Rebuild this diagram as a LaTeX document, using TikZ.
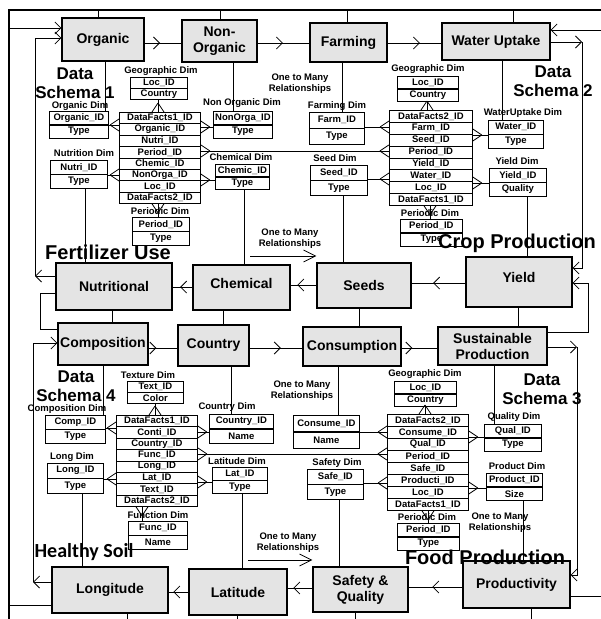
\documentclass[tikz,border=0pt]{standalone}
\usepackage{fontspec}
\setmainfont{Liberation Sans}
\newfontfamily\calibri{Carlito}
\usetikzlibrary{arrows.meta,decorations.markings}
\definecolor{boxgray}{RGB}{228,228,228}
\newcommand{\dimtab}[7]{%
  \node[cell,minimum width=#4,minimum height=#5,anchor=north west] (#1a) at (#2,#3) {#6};
  \node[cell,minimum width=#4,minimum height=#5,anchor=north] (#1b) at (#1a.south) {#7};}
\newcommand{\facttab}[6]{%
  \foreach \t [count=\i] in {#6} {\node[cell,minimum width=#4,minimum height=#5,anchor=north west] (#1r\i) at ({#2},{#3+(\i-1)*#5}) {\t};}}
\begin{document}
\begin{tikzpicture}[x=1pt,y=-1pt,
  mainbox/.style={draw,line width=1.1pt,fill=boxgray,font=\bfseries\fontsize{14}{16}\selectfont,align=center,inner sep=0pt},
  cell/.style={draw,line width=0.8pt,fill=white,inner sep=0pt,font=\bfseries\fontsize{9.5}{10}\selectfont},
  dimlabel/.style={font=\bfseries\fontsize{9.5}{10}\selectfont,inner sep=0pt},
  biglabel/.style={font=\bfseries\fontsize{17}{19}\selectfont,align=center,inner sep=0pt},
  huge/.style={font=\bfseries\fontsize{20}{22}\selectfont,inner sep=0pt},
  rel/.style={font=\bfseries\fontsize{9.5}{11}\selectfont,align=center,inner sep=0pt},
  link/.style={draw,line width=0.8pt},
  arr/.style={-{Straight Barb[length=6pt,width=12pt]}},
  bigarr/.style={-{Straight Barb[length=12pt,width=12pt]}},
  midarr/.style={postaction={decorate,decoration={markings,mark=at position #1 with {\arrow{Straight Barb[length=6pt,width=12pt]}}}}},
  crowend/.style={postaction={decorate,decoration={markings,mark=at position 0.999 with {\draw[line width=0.8pt] (-9pt,0pt) -- (0pt,6pt) (-9pt,0pt) -- (0pt,-6pt);}}}},
  crowstart/.style={postaction={decorate,decoration={markings,mark=at position 0.001 with {\draw[line width=0.8pt] (9pt,0pt) -- (0pt,6pt) (9pt,0pt) -- (0pt,-6pt);}}}}
]
\useasboundingbox (0,0) rectangle (601,619);

% frame
\coordinate (frTR) at (601,10);
\coordinate (frTL) at (9,10);
\coordinate (frBL) at (9,619);
\draw[line width=2.5pt] (frTR) -- (frTL) -- (frBL);

% main boxes
\node[mainbox,minimum width=82,minimum height=43] (organic) at (103,39.5) {Organic};
\node[mainbox,minimum width=75,minimum height=42] (nonorg) at (219.5,41) {Non-\\Organic};
\node[mainbox,minimum width=77,minimum height=39] (farming) at (348.5,42.5) {Farming};
\node[mainbox,minimum width=108,minimum height=37] (water) at (496,41.5) {Water Uptake};
\node[mainbox,minimum width=116,minimum height=47] (nutri) at (114,286.5) {Nutritional};
\node[mainbox,minimum width=97,minimum height=45] (chem) at (241.5,287.5) {\raisebox{9pt}{Chemical}};
\node[mainbox,minimum width=94,minimum height=45] (seeds) at (364,285.5) {Seeds};
\node[mainbox,minimum width=106,minimum height=50] (yield) at (519,282) {\raisebox{9pt}{Yield}};
\node[mainbox,minimum width=90,minimum height=42] (comp) at (103,344) {Composition};
\node[mainbox,minimum width=71,minimum height=41] (country) at (213.5,345.5) {Country};
\node[mainbox,minimum width=98,minimum height=39] (cons) at (352,346.5) {Consumption};
\node[mainbox,minimum width=109,minimum height=38] (sust) at (492.5,346) {Sustainable\\Production};
\node[mainbox,minimum width=116,minimum height=46] (longi) at (110,590) {Longitude};
\node[mainbox,minimum width=98,minimum height=46] (lati) at (238,592) {Latitude};
\node[mainbox,minimum width=95,minimum height=45] (safety) at (360.5,589.5) {Safety \&\\Quality};
\node[mainbox,minimum width=107,minimum height=47] (prod) at (516.5,584.5) {Productivity};

% dimension tables
\dimtab{geoA}{130}{77}{57}{10.5}{Loc\_ID}{Country}
\dimtab{orgd}{49}{111}{59}{13}{Organic\_ID}{Type}
\dimtab{nonorgd}{213}{111}{59}{13}{NonOrga\_ID}{Type}
\dimtab{nutd}{50}{160}{57}{13.5}{Nutri\_ID}{Type}
\dimtab{chemd}{215}{164}{54}{12}{Chemic\_ID}{Type}
\dimtab{perA}{132}{217}{57}{13.5}{Period\_ID}{Type}
\dimtab{farmd}{309}{112}{55}{15.5}{Farm\_ID}{Type}
\dimtab{geoB}{397}{76}{61}{12}{Loc\_ID}{Country}
\dimtab{watd}{488}{120}{55}{13.5}{Water\_ID}{Type}
\dimtab{seedd}{310}{165}{57}{14.5}{Seed\_ID}{Type}
\dimtab{yieldd}{489}{168}{57}{13.5}{Yield\_ID}{Quality}
\dimtab{perB}{400}{219}{62}{13}{Period\_ID}{Type}
\dimtab{texd}{127}{381}{56}{10.5}{Text\_ID}{Color}
\dimtab{compd}{45}{415}{60}{13.5}{Comp\_ID}{Type}
\dimtab{ctryd}{209}{414}{64}{14}{Country\_ID}{Name}
\dimtab{longd}{47}{463}{56}{14.5}{Long\_ID}{Type}
\dimtab{latd}{212}{467}{55}{12.5}{Lat\_ID}{Type}
\dimtab{funcd}{128}{521}{59}{13.5}{Func\_ID}{Name}
\dimtab{geoC}{394}{381}{62}{12}{Loc\_ID}{Country}
\dimtab{consd}{293}{415}{66}{16}{Consume\_ID}{Name}
\dimtab{quald}{484}{424}{57}{13}{Qual\_ID}{Type}
\dimtab{safed}{307}{469}{56}{14.5}{Safe\_ID}{Type}
\dimtab{prodd}{486}{473}{56}{13}{Product\_ID}{Size}
\dimtab{perC}{397}{523}{62}{13}{Period\_ID}{Type}

% fact tables
\facttab{fA}{119}{112}{81}{11.375}{DataFacts1\_ID,Organic\_ID,Nutri\_ID,Period\_ID,Chemic\_ID,NonOrga\_ID,Loc\_ID,DataFacts2\_ID}
\facttab{fB}{389}{110}{83}{11.875}{DataFacts2\_ID,Farm\_ID,Seed\_ID,Period\_ID,Yield\_ID,Water\_ID,Loc\_ID,DataFacts1\_ID}
\facttab{fD}{116}{415}{81}{11.375}{DataFacts1\_ID,Conti\_ID,Country\_ID,Func\_ID,Long\_ID,Lat\_ID,Text\_ID,DataFacts2\_ID}
\facttab{fC}{387}{414}{81}{12}{DataFacts2\_ID,Consume\_ID,Qual\_ID,Period\_ID,Safe\_ID,Producti\_ID,Loc\_ID,DataFacts1\_ID}

% dim labels
\node[dimlabel] (lgeoA) at (161,71) {Geographic Dim};
\node[dimlabel] (lorgd) at (80,106) {Organic Dim};
\node[dimlabel] (lnonorgd) at (242,103) {Non Organic Dim};
\node[dimlabel] (lnutd) at (84,153) {Nutrition Dim};
\node[dimlabel] (lchemd) at (241,157) {Chemical Dim};
\node[dimlabel] (lperA) at (160,211) {Periodic Dim};
\node[dimlabel] (lgeoB) at (428,69) {Geographic Dim};
\node[dimlabel] (lfarmd) at (337,106) {Farming Dim};
\node[dimlabel] (lwatd) at (523,113) {WaterUptake Dim};
\node[dimlabel] (lseedd) at (335,158) {Seed Dim};
\node[dimlabel] (lyieldd) at (517,161) {Yield Dim};
\node[dimlabel] (lperB) at (430,213) {Periodic Dim};
\node[dimlabel] (ltexd) at (148,375) {Texture Dim};
\node[dimlabel] (lcompd) at (67,409) {Composition Dim};
\node[dimlabel] (lctryd) at (227,407) {Country Dim};
\node[dimlabel] (llongd) at (72,457) {Long Dim};
\node[dimlabel] (llatd) at (237,461) {Latitude Dim};
\node[dimlabel] (lfuncd) at (158,515) {Function Dim};
\node[dimlabel] (lgeoC) at (425,374) {Geographic Dim};
\node[dimlabel] (lquald) at (514,417) {Quality Dim};
\node[dimlabel] (lsafed) at (337,463) {Safety Dim};
\node[dimlabel] (lprodd) at (517,466) {Product Dim};
\node[dimlabel] (lperC) at (427,517) {Periodic Dim};

% relationship labels
\node[rel] (relA) at (300,84) {One to Many\\Relationships};
\node[rel] (relB) at (290,238.5) {One to Many\\Relationships};
\node[rel] (relC) at (302,390.5) {One to Many\\Relationships};
\node[rel] (relD) at (288,543) {One to Many\\Relationships};
\node[rel] (relE) at (500,522.5) {One to Many\\Relationships};
\coordinate (relBs) at (250,256); \coordinate (relDs) at (248,560);
\draw[link,bigarr] (relBs) -- (seeds.west |- relBs);
\draw[link,bigarr] (relDs) -- (safety.west |- relDs);

% big labels
\node[biglabel] (ds1) at (75,83) {Data\\Schema 1};
\node[biglabel] (ds2) at (553,81) {Data\\Schema 2};
\node[biglabel] (ds4) at (76,386) {Data\\Schema 4};
\node[biglabel] (ds3) at (542,389) {Data\\Schema 3};

% crow's foot links: schema 1
\draw[link,crowend] (orgda.east |- 0,125) -- (fAr2.west |- 0,125);
\draw[link,crowend] (nutda.east |- 0,175) -- (fAr6.west |- 0,175);
\draw[link,crowstart] (fAr2.east |- 0,127) -- (nonorgda.west |- 0,127);
\draw[link,crowstart] (fAr6.east |- 0,180) -- (chemda.west |- 0,180);
\draw[link,crowstart,crowend] (fAr4.east |- 0,151) -- (fBr4.west |- 0,151);
\draw[link,crowend] (geoAb.south -| 158,0) -- (fAr1.north -| 158,0);
\draw[link,crowstart] (fAr8.south -| 158,0) -- (perAa.north -| 158,0);
% schema 2
\draw[link,crowend] (farmda.east |- 0,127) -- (fBr2.west |- 0,127);
\draw[link,crowend] (seedda.east |- 0,179) -- (fBr6.west |- 0,179);
\draw[link,crowstart] (fBr3.east |- 0,135) -- (watda.west |- 0,135);
\draw[link,crowstart] (fBr7.east |- 0,183) -- (yieldda.west |- 0,183);
\draw[link,crowend] (geoBb.south -| 427,0) -- (fBr1.north -| 427,0);
\draw[link,crowstart] (fBr8.south -| 430,0) -- (perBa.north -| 430,0);
% schema 4
\draw[link,crowend] (compda.east |- 0,428) -- (fDr2.west |- 0,428);
\draw[link,crowend] (longda.east |- 0,479) -- (fDr6.west |- 0,479);
\draw[link,crowstart] (fDr2.east |- 0,432) -- (ctryda.west |- 0,432);
\draw[link,crowstart] (fDr6.east |- 0,482) -- (latda.west |- 0,482);
\draw[link,crowstart,crowend] (fDr4.east |- 0,454) -- (fCr4.west |- 0,454);
\draw[link,crowend] (texdb.south -| 155,0) -- (fDr1.north -| 155,0);
\draw[link,crowstart] (fDr8.south -| 142,0) -- (funcda.north -| 142,0);
% schema 3
\draw[link,crowend] (consda.east |- 0,432) -- (fCr2.west |- 0,432);
\draw[link,crowend] (safeda.east |- 0,483) -- (fCr6.west |- 0,483);
\draw[link,crowstart] (fCr3.east |- 0,437) -- (qualda.west |- 0,437);
\draw[link,crowstart] (fCr7.east |- 0,488) -- (prodda.west |- 0,488);
\draw[link,crowend] (geoCb.south -| 425,0) -- (fCr1.north -| 425,0);
\draw[link,crowstart] (fCr8.south -| 428,0) -- (perCa.north -| 428,0);

% vertical links boxes <-> tables
\draw[link] (organic.south -| 105,0) -- (orgda.north -| 105,0);
\draw[link] (nonorg.south -| 233,0) -- (nonorgda.north -| 233,0);
\draw[link] (farming.south -| 342,0) -- (farmda.north -| 342,0);
\draw[link] (water.south -| 502,0) -- (watda.north -| 502,0);
\draw[link] (nutdb.south -| 85,0) -- (nutri.north -| 85,0);
\draw[link] (chemdb.south -| 244,0) -- (chem.north -| 244,0);
\draw[link] (seeddb.south -| 343,0) -- (seeds.north -| 343,0);
\draw[link] (yielddb.south -| 527,0) -- (yield.north -| 527,0);
\draw[link] (nutri.south -| 112,0) -- (comp.north -| 112,0);
\draw[link] (chem.south -| 223,0) -- (country.north -| 223,0);
\draw[link] (seeds.south -| 359,0) -- (cons.north -| 359,0);
\draw[link] (yield.south -| 518,0) -- (sust.north -| 518,0);
\draw[link] (comp.south -| 103,0) -- (compda.north -| 103,0);
\draw[link] (country.south -| 231,0) -- (ctryda.north -| 231,0);
\draw[link] (cons.south -| 338,0) -- (consda.north -| 338,0);
\draw[link] (sust.south -| 494,0) -- (qualda.north -| 494,0);
\draw[link] (longdb.south -| 82,0) -- (longi.north -| 82,0);
\draw[link] (latdb.south -| 242,0) -- (lati.north -| 242,0);
\draw[link] (safedb.south -| 339,0) -- (safety.north -| 339,0);
\draw[link] (proddb.south -| 523,0) -- (prod.north -| 523,0);
% to frame
\draw[link] (organic.north -| 98,0) -- (98,10);
\draw[link] (nonorg.north -| 220,0) -- (220,10);
\draw[link] (farming.north -| 347,0) -- (347,10);
\draw[link] (water.north -| 513,0) -- (513,10);
\draw[link] (longi.south -| 127,0) -- (127,619);
\draw[link] (lati.south -| 237,0) -- (237,619);
\draw[link] (safety.south -| 355,0) -- (355,619);
\draw[link] (prod.south -| 531,0) -- (531,619);

% flow arrows
\draw[link,arr] (9,28) -- (organic.west |- 0,28);
\draw[link,arr] (nutri.west |- 0,276) -- (35,276);
\draw[link,arr] (35,276) -- (35,38) -- (organic.west |- 0,38);
\draw[link,midarr=0.42] (organic.east |- 0,43) -- (nonorg.west |- 0,43);
\draw[link,midarr=0.49] (nonorg.east |- 0,43) -- (farming.west |- 0,43);
\draw[link,midarr=0.6] (farming.east |- 0,43) -- (water.west |- 0,43);
\draw[link,arr] (601,30) -- (water.east |- 0,30);
\draw[link,arr] (water.east |- 0,42) -- (582,42);
\draw[link,arr] (582,42) -- (582,268) -- (yield.east |- 0,268);
\draw[link,arr] (sust.east |- 0,332) -- (588,332) -- (588,283) -- (yield.east |- 0,283);
\draw[link,midarr=0.6] (yield.west |- 0,283) -- (seeds.east |- 0,283);
\draw[link,midarr=0.74] (seeds.west |- 0,285) -- (chem.east |- 0,285);
\draw[link,midarr=0.62] (chem.west |- 0,287) -- (nutri.east |- 0,287);
\draw[link] (nutri.west |- 0,293) -- (40,293) -- (40,329) -- (comp.west |- 0,329);
\draw[link,arr] (longi.west |- 0,582) -- (33,582);
\draw[link,arr] (33,582) -- (33,343) -- (comp.west |- 0,343);
\draw[link,midarr=0.27] (comp.east |- 0,348) -- (country.west |- 0,348);
\draw[link,midarr=0.59] (country.east |- 0,348) -- (cons.west |- 0,348);
\draw[link,midarr=0.3] (cons.east |- 0,348) -- (sust.west |- 0,348);
\draw[link,arr] (sust.east |- 0,347) -- (577,347);
\draw[link,arr] (577,347) -- (577,575) -- (prod.east |- 0,575);
\draw[link,midarr=0.56] (prod.west |- 0,587) -- (safety.east |- 0,587);
\draw[link,midarr=0.77] (safety.west |- 0,588) -- (lati.east |- 0,588);
\draw[link,midarr=0.76] (lati.west |- 0,592) -- (longi.east |- 0,592);
\draw[link] (9,605) -- (longi.west |- 0,605);
\draw[link] (prod.east |- 0,596) -- (601,596);

% section titles
\node[huge] (fert) at (108,252) {Fertilizer Use};
\node[huge] (crop) at (517,243) {Crop Production};
\node[huge,font=\calibri\bfseries\fontsize{20}{22}\selectfont] (soil) at (84,552) {Healthy Soil};
\node[huge] (food) at (485,557) {Food Production};
\end{tikzpicture}
\end{document}
